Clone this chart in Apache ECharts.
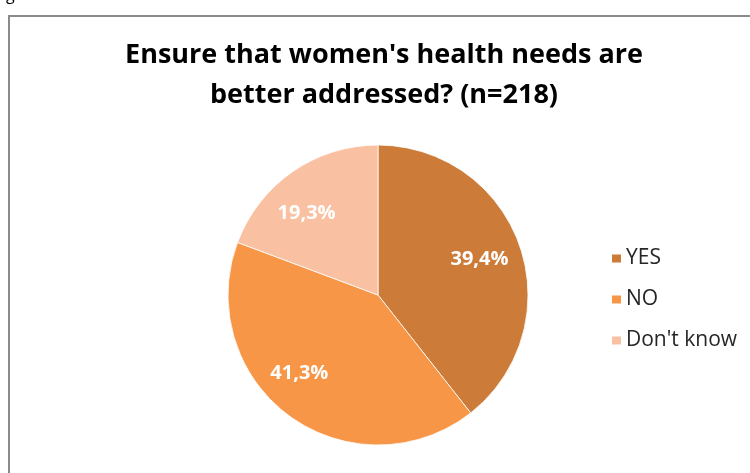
<!DOCTYPE html>
<html>
<head>
<meta charset="utf-8">
<script src="https://cdn.jsdelivr.net/npm/echarts@6/dist/echarts.min.js"></script>
<style>
html,body{margin:0;padding:0;background:#fff;}
#chart{width:750px;height:473px;}
</style>
</head>
<body>
<div id="chart"></div>
<script>
var titleText = "Ensure that women's health needs are\nbetter addressed? (n=218)";
var categories = ["YES", "NO", "Don't know"];
var values = [39.4, 41.3, 19.3];
var labels = ["39,4%", "41,3%", "19,3%"];
var colors = ["#CC7B38", "#F79646", "#FAC0A2"];

var chart = echarts.init(document.getElementById('chart'));
var center = [378, 295];
var R = 150;
// small label nudges (styling only) to mimic the original label placement
var labelNudges = [[-2, 0], [-14, -10], [-9, 8]];

var mainData = categories.map(function (c, i) {
  return { name: c, value: values[i], itemStyle: { color: colors[i] } };
});
var labelData = categories.map(function (c, i) {
  return { name: c, value: values[i], label: { formatter: labels[i], offset: labelNudges[i] } };
});

chart.setOption({
  backgroundColor: '#ffffff',
  animation: false,
  title: {
    text: titleText,
    left: 384,
    top: 35,
    padding: 0,
    textAlign: 'center',
    textStyle: {
      fontFamily: 'Open Sans',
      fontWeight: 'bold',
      fontSize: 27,
      lineHeight: 40,
      color: '#000000'
    }
  },
  legend: {
    orient: 'vertical',
    left: 610,
    top: 248,
    padding: 0,
    itemWidth: 11,
    itemHeight: 10,
    itemGap: 20,
    icon: 'rect',
    data: categories,
    textStyle: { fontFamily: 'Open Sans', fontSize: 21, lineHeight: 21, color: '#262626', padding: [0, 0, 0, -1] }
  },
  graphic: [
    {
      type: 'rect',
      shape: { x: 9, y: 16, width: 900, height: 600 },
      style: { fill: 'none', stroke: '#8a8a8a', lineWidth: 2 },
      silent: true
    },
    {
      type: 'text',
      left: 6,
      top: -13,
      style: { text: 'g', fontFamily: 'Open Sans', fontSize: 16, fill: '#000' },
      silent: true
    }
  ],
  series: [
    {
      type: 'pie',
      center: center,
      radius: [0, R],
      startAngle: 90,
      clockwise: true,
      silent: true,
      label: { show: false },
      labelLine: { show: false },
      itemStyle: { borderColor: '#ffffff', borderWidth: 0.8 },
      emphasis: { disabled: true },
      data: mainData
    },
    {
      type: 'pie',
      center: center,
      radius: [R * 0.42, R],
      startAngle: 90,
      clockwise: true,
      silent: true,
      itemStyle: { color: 'rgba(0,0,0,0)' },
      label: {
        show: true,
        position: 'inside',
        color: '#ffffff',
        fontFamily: 'Open Sans',
        fontWeight: 'bold',
        fontSize: 20
      },
      labelLine: { show: false },
      emphasis: { disabled: true },
      data: labelData
    }
  ]
});
</script>
</body>
</html>
